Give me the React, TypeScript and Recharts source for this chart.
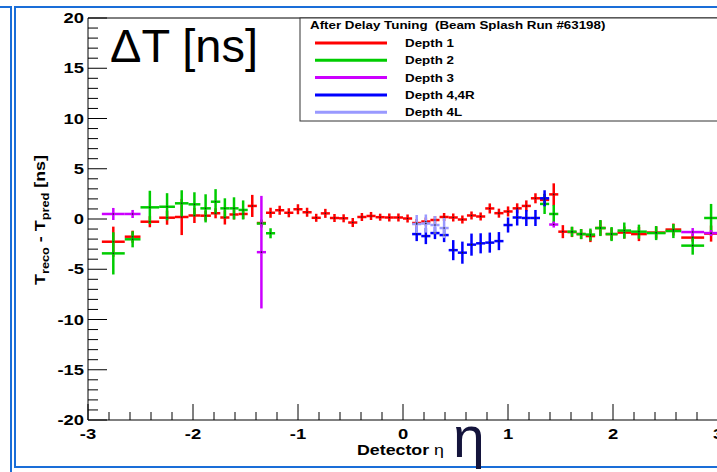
import React from 'react'
import { ScatterChart, Scatter, XAxis, YAxis, ErrorBar, ReferenceLine } from 'recharts'

// HCAL tower centres in |eta| (ieta 1..29) and half widths
const ETA = [0.0435, 0.1305, 0.2175, 0.3045, 0.3915, 0.4785, 0.5655, 0.6525, 0.7395, 0.8265,
  0.9135, 1.0005, 1.0875, 1.1745, 1.2615, 1.3485, 1.4355, 1.5225, 1.6095, 1.6965,
  1.785, 1.88, 1.9865, 2.1075, 2.247, 2.411, 2.575, 2.759, 2.934]
const HALF = [0.0435, 0.0435, 0.0435, 0.0435, 0.0435, 0.0435, 0.0435, 0.0435, 0.0435, 0.0435,
  0.0435, 0.0435, 0.0435, 0.0435, 0.0435, 0.0435, 0.0435, 0.0435, 0.0435, 0.0435,
  0.045, 0.05, 0.0565, 0.0645, 0.075, 0.089, 0.075, 0.109, 0.066]

// Depth 1
const D1_NEG_T = [1, 2, 3, 4, 5, 6, 7, 8, 9, 10, 11, 12, 13, 14, 15, 16, 17, 18, 19, 20, 21, 22, 23, 24, 25, 26, 27, 28]
const D1_NEG = [0.15, 0.15, 0.18, 0.3, 0.2, -0.35, 0.07, 0.1, 0.56, 0.12, 0.67, 0.97, 0.62, 0.87, 0.62, -0.4, 1.3, 0.5, 0.45, 0.15, 0.57, 0.33, 0.35, 0.2, 0.13, -0.27, -1.76, -2.26]
const D1_NEG_ERR = [0.4, 0.4, 0.35, 0.4, 0.4, 0.45, 0.4, 0.4, 0.45, 0.4, 0.45, 0.5, 0.45, 0.45, 0.5, 0.3, 1.1, 0.5, 0.5, 0.7, 0.5, 0.5, 0.75, 1.8, 0.7, 0.55, 0.6, 1.5]
const D1_POS_T = [1, 2, 3, 4, 5, 6, 7, 8, 9, 10, 11, 12, 13, 14, 15, 16, 17, 18, 19, 20, 21, 22, 23, 24, 25, 26, 27, 28, 29]
const D1_POS = [0.05, -0.4, -0.25, -0.1, 0.2, 0.15, -0.05, 0.35, 0.25, 1.05, 0.58, 0.75, 1.06, 1.3, 2.06, 1.9, 2.45, -1.26, -1.3, -1.5, -1.7, -0.9, -1.5, -1.35, -1.5, -1.35, -1.05, -1.85, -1.45]
const D1_POS_ERR = [0.4, 0.4, 0.4, 0.4, 0.4, 0.4, 0.4, 0.4, 0.4, 0.5, 0.45, 0.5, 0.5, 0.55, 0.5, 0.6, 1.1, 0.65, 0.5, 0.5, 0.6, 0.75, 0.6, 0.6, 0.7, 0.6, 0.6, 0.4, 0.8]

// Depth 2
const D2_NEG_T = [15, 16, 18, 19, 20, 21, 22, 23, 24, 25, 26, 27, 28]
const D2_NEG = [-1.42, -0.45, 0.9, 1.06, 1.06, 1.72, 1.06, 1.46, 1.56, 1.22, 1.16, -2.02, -3.42]
const D2_NEG_ERR = [0.5, 0.4, 0.95, 1.1, 1.0, 1.25, 1.4, 1.2, 1.3, 1.35, 1.65, 0.8, 2.1]
const D2_POS_T = [16, 17, 19, 20, 21, 22, 23, 24, 25, 26, 27, 28, 29]
const D2_POS = [1.5, 0.5, -1.26, -1.5, -1.55, -0.9, -1.5, -1.15, -1.26, -1.4, -1.2, -2.65, 0.1]
const D2_POS_ERR = [1.0, 0.9, 0.5, 0.5, 0.6, 0.8, 0.7, 0.8, 0.7, 0.7, 0.7, 0.9, 1.4]

// Depth 3
const D3_NEG_T = [16, 27, 28]
const D3_NEG = [-3.3, 0.5, 0.5]
const D3_NEG_ERR = [5.6, 0.4, 0.6]
const D3_POS_T = [17, 28, 29]
const D3_POS = [-0.55, -1.3, -1.4]
const D3_POS_ERR = [0.3, 0.4, 0.3]

// Depth 4,4R and 4L
const D4_POS_T = [2, 3, 4, 5, 6, 7, 8, 9, 10, 11, 12, 13, 14, 15, 16]
const D4_POS = [-1.5, -1.7, -1.4, -1.6, -3.1, -3.35, -2.55, -2.42, -2.35, -2.2, -0.6, 0.15, 0.1, 0.1, 2.06]
const D4_POS_ERR = [0.7, 0.8, 0.6, 0.7, 1.0, 1.1, 1.1, 1.0, 1.0, 0.9, 0.75, 0.8, 0.8, 0.8, 0.8]
const D4L_POS_T = [2, 3, 4, 5]
const D4L_POS = [-0.5, -0.45, -0.6, -0.9]
const D4L_POS_ERR = [0.9, 0.9, 0.9, 1.0]

const X_TICKS = [-3, -2.8, -2.6, -2.4, -2.2, -2, -1.8, -1.6, -1.4, -1.2, -1, -0.8, -0.6, -0.4, -0.2, 0,
  0.2, 0.4, 0.6, 0.8, 1, 1.2, 1.4, 1.6, 1.8, 2, 2.2, 2.4, 2.6, 2.8, 3]
const Y_TICKS = [-20, -19, -18, -17, -16, -15, -14, -13, -12, -11, -10, -9, -8, -7, -6, -5, -4, -3, -2, -1, 0,
  1, 2, 3, 4, 5, 6, 7, 8, 9, 10, 11, 12, 13, 14, 15, 16, 17, 18, 19, 20]

const LEGEND = [
  { label: 'Depth 1', color: '#ff0000' },
  { label: 'Depth 2', color: '#00cc00' },
  { label: 'Depth 3', color: '#cc00ff' },
  { label: 'Depth 4,4R', color: '#0000ff' },
  { label: 'Depth 4L', color: '#9999ff' },
]

const FONT = '"Liberation Sans", Arial, Helvetica, sans-serif'

function pts(towers: number[], vals: number[], errs: number[], sign: number) {
  return towers.map((t, i) => ({ x: sign * ETA[t - 1], y: vals[i], ex: HALF[t - 1], ey: errs[i] }))
}

const SERIES = [
  { color: LEGEND[0].color, data: [...pts(D1_NEG_T, D1_NEG, D1_NEG_ERR, -1), ...pts(D1_POS_T, D1_POS, D1_POS_ERR, 1)] },
  { color: LEGEND[1].color, data: [...pts(D2_NEG_T, D2_NEG, D2_NEG_ERR, -1), ...pts(D2_POS_T, D2_POS, D2_POS_ERR, 1)] },
  { color: LEGEND[2].color, data: [...pts(D3_NEG_T, D3_NEG, D3_NEG_ERR, -1), ...pts(D3_POS_T, D3_POS, D3_POS_ERR, 1)] },
  { color: LEGEND[3].color, data: pts(D4_POS_T, D4_POS, D4_POS_ERR, 1) },
  { color: LEGEND[4].color, data: pts(D4L_POS_T, D4L_POS, D4L_POS_ERR, 1) },
]

// ROOT text looks horizontally stretched in the original
const RText = ({ x, y, size, anchor = 'start', children, weight = 'bold' }: any) => (
  <text transform={`translate(${x},${y}) scale(1.27,1)`} textAnchor={anchor} fontSize={size}
    fontFamily={FONT} fontWeight={weight} fill="#000" style={{ whiteSpace: 'pre' }}>
    {children}
  </text>
)

const YTick = (p: any) => {
  const v = p.payload.value
  const major = v % 5 === 0
  return (
    <g>
      <line x1={p.x} x2={p.x + (major ? 19 : 10)} y1={p.y} y2={p.y} stroke="#000" strokeWidth={1} />
      {major && <RText x={p.x - 4} y={p.y + 5} size={14.5} anchor="end">{v}</RText>}
    </g>
  )
}

const XTick = (p: any) => {
  const v = p.payload.value
  const major = Math.abs(v - Math.round(v)) < 1e-6
  return (
    <g>
      <line x1={p.x} x2={p.x} y1={p.y} y2={p.y - (major ? 16 : 8)} stroke="#000" strokeWidth={1} />
      {major && <RText x={p.x} y={p.y + 19} size={14.5} anchor="middle">{v}</RText>}
    </g>
  )
}

const Dot = (p: any) => <circle cx={p.cx} cy={p.cy} r={0.8} fill="#222" />

export default function App() {
  return (
    <div style={{ position: 'absolute', left: 0, top: 0, width: 717, height: 472, overflow: 'hidden', background: '#fff' }}>
      <ScatterChart width={740} height={472} margin={{ top: 18, right: 22, bottom: 51, left: 87 }}>
        <XAxis type="number" dataKey="x" domain={[-3, 3]} ticks={X_TICKS} interval={0} height={1}
          tickSize={0} tickMargin={0} tickLine={false} tick={XTick} axisLine={{ stroke: '#000' }} allowDataOverflow />
        <YAxis type="number" dataKey="y" domain={[-20, 20]} ticks={Y_TICKS} interval={0} width={1}
          tickSize={0} tickMargin={0} tickLine={false} tick={YTick} axisLine={{ stroke: '#000' }} allowDataOverflow />
        <ReferenceLine y={20} stroke="#000" />
        {SERIES.map((s, i) => (
          <Scatter key={i} data={s.data} fill={s.color} shape={<Dot />} isAnimationActive={false}>
            <ErrorBar dataKey="ex" direction="x" width={0} stroke={s.color} strokeWidth={2.5} isAnimationActive={false} />
            <ErrorBar dataKey="ey" direction="y" width={0} stroke={s.color} strokeWidth={2.5} isAnimationActive={false} />
          </Scatter>
        ))}
      </ScatterChart>

      <svg width={717} height={472} style={{ position: 'absolute', left: 0, top: 0, pointerEvents: 'none' }}>
        {/* pad borders */}
        <path d="M0,7 H11 V472" fill="none" stroke="#1a6ed8" strokeWidth={2} />
        <rect x={15} y={7} width={760} height={460} fill="none" stroke="#1a6ed8" strokeWidth={2} />

        {/* axis titles */}
        <text transform="translate(45,220) rotate(-90)" textAnchor="middle" fontFamily={FONT} fontWeight="bold"
          fontSize={14} textLength={130} lengthAdjust="spacingAndGlyphs">
          T<tspan fontSize={10} dy={4}>reco</tspan><tspan dy={-4}> - T</tspan><tspan fontSize={10} dy={4}>pred</tspan><tspan dy={-4}> [ns]</tspan>
        </text>
        <RText x={357} y={455} size={14}>Detector <tspan fontWeight="normal">η</tspan></RText>
        <text x={453} y={457} fontFamily={FONT} fontSize={57} fill="#14143c">η</text>
        <text x={110} y={62} fontFamily={FONT} fontSize={47} fill="#000">ΔT [ns]</text>

        {/* legend */}
        <rect x={300} y={18} width={460} height={103} fill="#fff" stroke="#333" strokeWidth={1} />
        <RText x={310} y={29} size={10.5}>After Delay Tuning  (Beam Splash Run #63198)</RText>
        {LEGEND.map((l, i) => (
          <g key={l.label}>
            <line x1={315} x2={387} y1={43 + i * 17.3} y2={43 + i * 17.3} stroke={l.color} strokeWidth={3} />
            <RText x={405} y={47 + i * 17.3} size={10.5}>{l.label}</RText>
          </g>
        ))}
      </svg>
    </div>
  )
}
